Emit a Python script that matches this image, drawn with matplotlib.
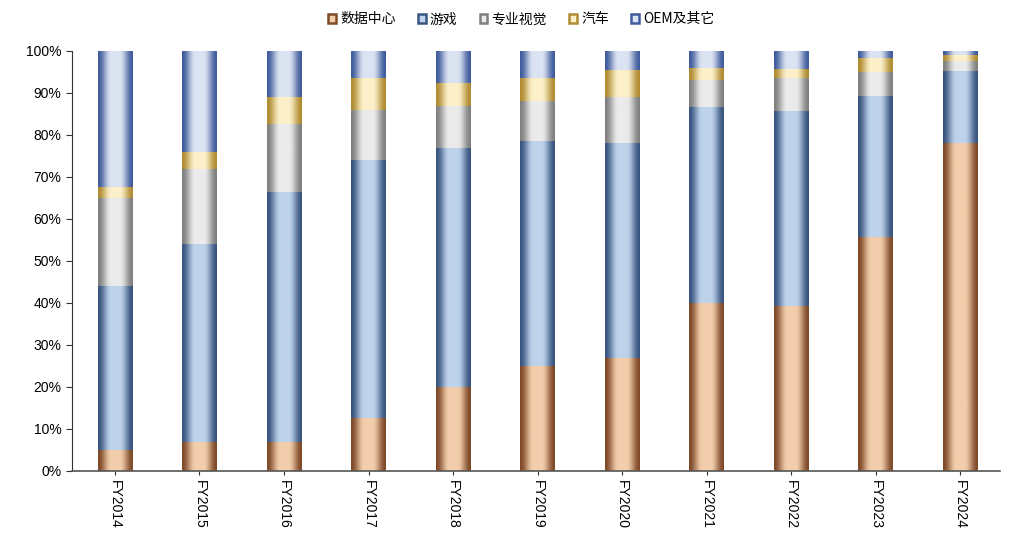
import numpy as np
import matplotlib
matplotlib.use("Agg")
import matplotlib.pyplot as plt
from matplotlib.colors import LinearSegmentedColormap
from matplotlib.patches import Patch
from matplotlib.ticker import PercentFormatter

plt.rcParams['font.family'] = ['Liberation Sans', 'Noto Sans CJK SC', 'DejaVu Sans']

# data: share of revenue by segment (%)
years = ["FY2014", "FY2015", "FY2016", "FY2017", "FY2018", "FY2019",
         "FY2020", "FY2021", "FY2022", "FY2023", "FY2024"]
segments = ["数据中心", "游戏", "专业视觉", "汽车", "OEM及其它"]
data_center = [5.0, 7.0, 7.0, 12.5, 20.0, 25.0, 27.0, 40.0, 39.3, 55.7, 78.0]
gaming = [39.0, 47.0, 59.5, 61.5, 57.0, 53.5, 51.0, 46.7, 46.5, 33.5, 17.2]
pro_vis = [21.0, 18.0, 16.0, 12.0, 10.0, 9.6, 11.0, 6.3, 7.8, 5.8, 2.3]
auto = [2.6, 4.0, 6.5, 7.5, 5.4, 5.5, 6.5, 3.0, 2.2, 3.4, 1.6]
oem_other = [32.4, 24.0, 11.0, 6.5, 7.6, 6.4, 4.5, 4.0, 4.2, 1.6, 0.9]

# (edge colour, centre colour) for each segment
shades = [("#7f4a28", "#f2cdac"),
          ("#395680", "#bed3eb"),
          ("#808080", "#ebebeb"),
          ("#b08c32", "#fcf0c9"),
          ("#405c9c", "#dbe3f2")]

fig = plt.figure(figsize=(10.12, 5.42), dpi=100)
ax = fig.add_axes([0.071, 0.131, 0.917, 0.775])

x = np.arange(len(years))
# horizontal profile: dark at the edges, light in the middle
t = np.linspace(0, 1, 80)
s = np.clip((1 - np.abs(2 * t - 1)) / 0.75, 0, 1)
profile = s * s * (3 - 2 * s)
grad = profile.reshape(1, -1)

bottom = np.zeros(len(years))
handles = []
for name, vals, (dark, light) in zip(segments,
                                     [data_center, gaming, pro_vis, auto, oem_other],
                                     shades):
    cmap = LinearSegmentedColormap.from_list(name, [dark, light])
    bars = ax.bar(x, vals, bottom=bottom, width=0.41, color='none', linewidth=0)
    for b in bars:
        x0, y0 = b.get_x(), b.get_y()
        ax.imshow(grad, cmap=cmap, vmin=0, vmax=1, aspect='auto',
                  interpolation='bilinear',
                  extent=[x0, x0 + b.get_width(), y0, y0 + b.get_height()],
                  zorder=2)
    bottom += np.array(vals)
    handles.append(Patch(facecolor=light, edgecolor=dark, linewidth=1.8, label=name))

ax.set_xlim(-0.51, 10.47)
ax.set_ylim(0, 100)
ax.set_yticks(np.arange(0, 101, 10))
ax.yaxis.set_major_formatter(PercentFormatter(decimals=0))
ax.set_xticks(x)
ax.set_xticklabels(years, rotation=-90)
ax.tick_params(axis='both', labelsize=10, color='#333333', length=4, width=0.8)
ax.tick_params(axis='x', length=3)

for side in ['top', 'right']:
    ax.spines[side].set_visible(False)
ax.spines['left'].set_color('#333333')
ax.spines['bottom'].set_color('#555555')
ax.spines['bottom'].set_linewidth(1.2)

fig.legend(handles=handles, loc='upper center', bbox_to_anchor=(0.515, 1.0),
           ncol=5, frameon=False, handlelength=0.55, handleheight=0.55,
           handletextpad=0.3, columnspacing=1.6, prop={'family': ['Noto Sans CJK SC'], 'size': 10})

fig.savefig("out.png", dpi=100)
